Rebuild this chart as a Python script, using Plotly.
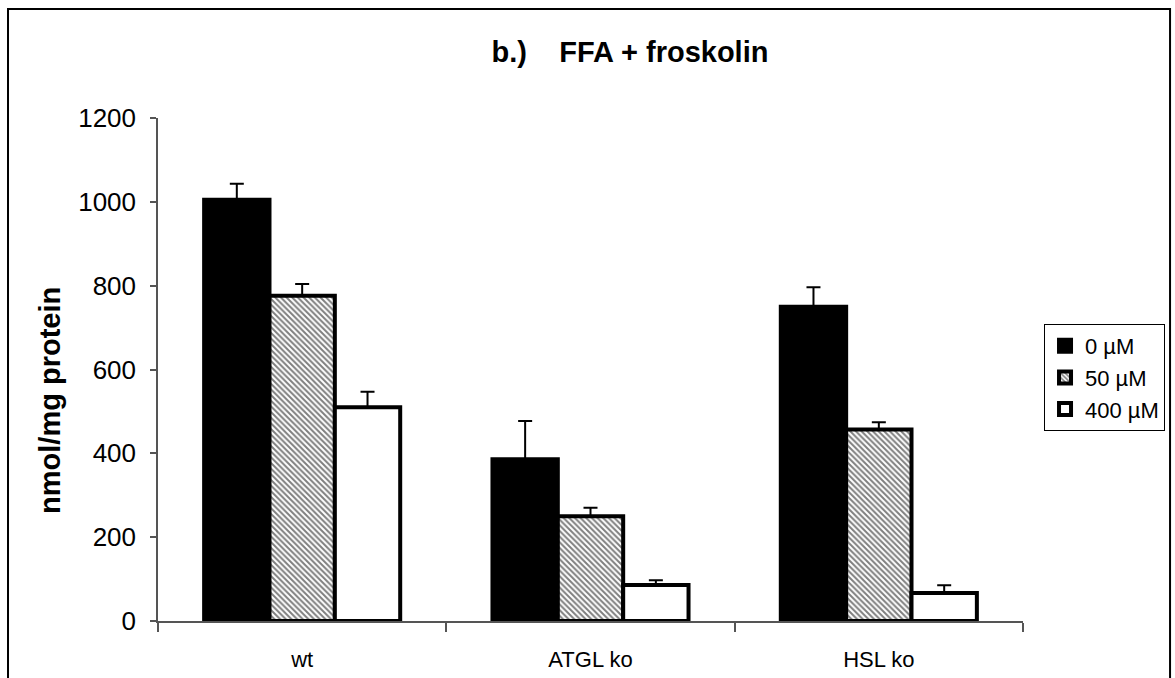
import plotly.graph_objects as go

# Lipolysis readout (FFA release, forskolin-stimulated) per genotype and inhibitor dose
genotypes = ["wt", "ATGL ko", "HSL ko"]
doses = ["0 µM", "50 µM", "400 µM"]

ffa_0uM = [1005, 386, 750]
ffa_50uM = [776, 250, 457]
ffa_400uM = [510, 86, 67]

sem_0uM = [38, 91, 46]
sem_50uM = [28, 20, 17]
sem_400uM = [37, 11, 18]

series = [
    (doses[0], ffa_0uM, sem_0uM, dict(color="black")),
    (doses[1], ffa_50uM, sem_50uM,
     dict(color="white", pattern=dict(shape="\\", fgcolor="black", bgcolor="white",
                                      size=4, solidity=0.5, fillmode="overlay"))),
    (doses[2], ffa_400uM, sem_400uM, dict(color="white")),
]

FONT = "Liberation Sans, Arial, sans-serif"

fig = go.Figure()
for name, vals, err, marker in series:
    fig.add_trace(go.Bar(
        x=genotypes, y=vals, name=name,
        marker=dict(**marker, line=dict(color="black", width=4)),
        error_y=dict(type="data", array=err, arrayminus=[0] * len(err), symmetric=False,
                     color="black", thickness=2, width=7),
    ))

fig.update_layout(
    width=1175, height=678,
    paper_bgcolor="white", plot_bgcolor="white",
    margin=dict(l=158, r=152, t=118, b=57, autoexpand=False),
    barmode="group", bargap=0.32, bargroupgap=0,
    showlegend=True,
    legend=dict(x=1.0243, y=0.5905, xanchor="left", yanchor="top",
                bordercolor="black", borderwidth=1, tracegroupgap=0,
                font=dict(family=FONT, size=22, color="black")),
    title=dict(text="b.)\u00a0\u00a0\u00a0 FFA + froskolin", x=0.5457, xref="paper", xanchor="center",
               y=0.923, yref="container", yanchor="middle",
               font=dict(family=FONT, size=29, color="black", weight="bold")),
    xaxis=dict(showline=True, linecolor="#555", linewidth=1.5,
               ticks="outside", tickson="boundaries", ticklen=9, tickcolor="#555", tickwidth=1.5,
               tickfont=dict(family=FONT, size=22, color="black"),
               showgrid=False, zeroline=False, ticklabelstandoff=18),
    yaxis=dict(range=[0, 1200], dtick=200, showline=True, linecolor="#555", linewidth=1.5,
               ticks="outside", ticklen=6, tickcolor="#555", tickwidth=1.5,
               tickfont=dict(family=FONT, size=26, color="black"),
               showgrid=False, zeroline=False, ticklabelstandoff=9),
    annotations=[dict(text="nmol/mg protein", textangle=-90, xref="paper", yref="paper",
                      x=-0.1249, y=0.4394, xanchor="center", yanchor="middle", showarrow=False,
                      font=dict(family=FONT, size=29, color="black", weight="bold"))],
    shapes=[dict(type="rect", xref="paper", yref="paper", x0=-0.1734, x1=1.17, y0=-0.2, y1=1.2167,
                 line=dict(color="black", width=2), fillcolor="rgba(0,0,0,0)", layer="below")],
)

fig.write_html("out.html")
